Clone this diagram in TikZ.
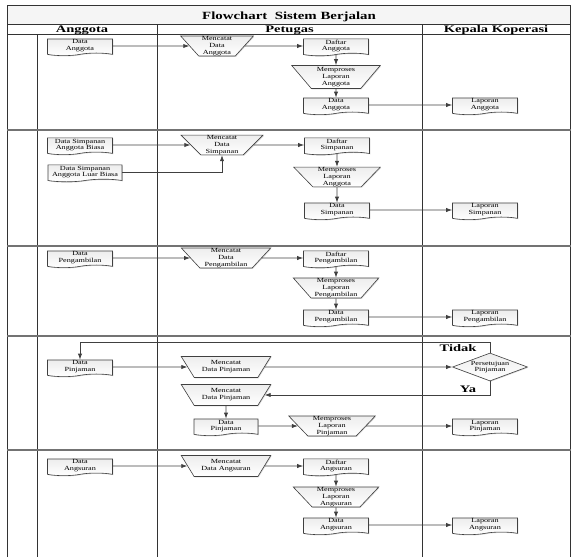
\documentclass[tikz,border=0pt]{standalone}
\usepackage{fontspec}
\setmainfont{Liberation Serif}[FakeStretch=1.3]
\newfontfamily\ttlfont{Liberation Serif}[FakeStretch=1.35]
\newfontfamily\hdrfont{Liberation Serif}[FakeStretch=1.45]
\usetikzlibrary{shapes.geometric,shapes.symbols,arrows.meta,shadows}

\tikzset{
  nodefont/.style={font=\fontsize{6.3}{6.8}\selectfont},
  shapebase/.style={draw=black!75, line width=0.6pt, top color=gray!14, bottom color=white,
    drop shadow={shadow xshift=0.8pt, shadow yshift=-0.8pt, fill=black!30},
    inner sep=0.3pt, align=center, nodefont},
  docbox/.style={shapebase, tape, tape bend top=none, tape bend height=2.6pt,
    inner ysep=0.9pt, minimum width=#1, minimum height=15pt},
  docbox/.default=65pt,
  manop/.style 2 args={shapebase, trapezium, shape border rotate=180,
    trapezium stretches=true, trapezium angle=52, minimum width=#1, minimum height=#2},
  decision/.style={shapebase, diamond, aspect=2.6, minimum width=75pt, minimum height=28pt, inner sep=0pt},
  flow/.style={draw=black!75, line width=0.7pt, -{Latex[length=6pt,width=4.2pt]}},
  laneline/.style={draw=black!80, line width=0.8pt},
  rowline/.style={draw=black!55, line width=1.3pt},
  lanetitle/.style={font=\hdrfont\bfseries\fontsize{10}{12}\selectfont, anchor=base},
  answer/.style={font=\hdrfont\bfseries\fontsize{10}{12}\selectfont, anchor=base},
}

\begin{document}
\begin{tikzpicture}[x=1pt, y=-1pt]
\useasboundingbox (0,0) rectangle (572,557);

% swimlane frame
\fill[gray!8] (7,5) rectangle (570.5,24);
\draw[laneline] (7,557) -- (7,5) -- (570.5,5) -- (570.5,557);
\draw[laneline] (7,24) -- (570.5,24);
\draw[laneline] (7,34) -- (570.5,34);
\draw[laneline] (37,34) -- (37,557);
\draw[laneline] (157,24) -- (157,557);
\draw[laneline] (422,24) -- (422,557);
\foreach \yy in {130,246,336,450} \draw[rowline] (7,\yy) -- (570.5,\yy);

\node[font=\ttlfont\bfseries\fontsize{11}{13}\selectfont, anchor=base] (title) at (289,19) {Flowchart\ \ Sistem Berjalan};
\node[lanetitle] (hAng) at (82,32) {Anggota};
\node[lanetitle] (hPet) at (289.5,32) {Petugas};
\node[lanetitle] (hKep) at (496,32) {Kepala Koperasi};

% data anggota
\node[docbox] (dA1) at (80,46) {Data\\Anggota};
\node[manop={73pt}{20pt}] (mA) at (217,46) {Mencatat\\Data\\Anggota};
\node[docbox] (fA) at (336,46) {Daftar\\Anggota};
\node[manop={89pt}{23pt}] (pA) at (336,77) {Memproses\\Laporan\\Anggota};
\node[docbox] (dA2) at (336,105) {Data\\Anggota};
\node[docbox] (lA) at (485,105) {Laporan\\Anggota};
\draw[flow] (dA1) -- (mA);
\draw[flow] (mA) -- (fA);
\draw[flow] (fA) -- (pA);
\draw[flow] (pA) -- (dA2);
\draw[flow] (dA2) -- (lA);

% simpanan
\node[docbox] (dS1) at (80,145) {Data Simpanan\\Anggota Biasa};
\node[docbox=74pt, minimum height=17pt] (dS2) at (85,172) {Data Simpanan\\Anggota Luar Biasa};
\node[manop={82pt}{18pt}] (mS) at (222,145) {Mencatat\\Data\\Simpanan};
\node[docbox] (fS) at (337,145) {Daftar\\Simpanan};
\node[manop={87pt}{19pt}] (pS) at (337,177) {Memproses\\Laporan\\Anggota};
\node[docbox] (dS3) at (337,210) {Data\\Simpanan};
\node[docbox] (lS) at (485,210) {Laporan\\Simpanan};
\draw[flow] (dS1) -- (mS);
\draw[flow] (dS2) -| (mS);
\draw[flow] (mS) -- (fS);
\draw[flow] (fS) -- (pS);
\draw[flow] (pS) -- (dS3);
\draw[flow] (dS3) -- (lS);

% pengambilan
\node[docbox] (dG1) at (80,258) {Data\\Pengambilan};
\node[manop={90pt}{20pt}] (mG) at (226,258) {Mencatat\\Data\\Pengambilan};
\node[docbox] (fG) at (336,258) {Daftar\\Pengambilan};
\node[manop={86pt}{20pt}] (pG) at (336,288) {Memproses\\Laporan\\Pengambilan};
\node[docbox] (dG2) at (336,317) {Data\\Pengambilan};
\node[docbox] (lG) at (485,317) {Laporan\\Pengambilan};
\draw[flow] (dG1) -- (mG);
\draw[flow] (mG) -- (fG);
\draw[flow] (fG) -- (pG);
\draw[flow] (pG) -- (dG2);
\draw[flow] (dG2) -- (lG);

% pinjaman
\node[docbox] (dP1) at (80,367) {Data\\Pinjaman};
\node[manop={90pt}{21pt}] (mP1) at (226,367) {Mencatat\\Data Pinjaman};
\node[decision] (dec) at (490,367) {Persetujuan\\Pinjaman};
\node[manop={90pt}{21pt}] (mP2) at (226,395) {Mencatat\\Data Pinjaman};
\node[docbox=64pt] (dP2) at (226,426) {Data\\Pinjaman};
\node[manop={87pt}{20pt}] (pP) at (332,426) {Memproses\\Laporan\\Pinjaman};
\node[docbox] (lP) at (485,426) {Laporan\\Pinjaman};
\coordinate (tk) at (490,342);
\draw[flow] (dP1) -- (mP1);
\draw[flow] (mP1) -- (dec);
\draw[flow] (dec.north) -- (tk) -| (dP1);
\draw[flow] (dec) |- (mP2);
\draw[flow] (mP2) -- (dP2);
\draw[flow] (dP2) -- (pP);
\draw[flow] (pP) -- (lP);
\node[answer] (tidak) at (458,351) {Tidak};
\node[answer] (ya) at (468,392) {Ya};

% angsuran
\node[docbox] (dN1) at (80,466) {Data\\Angsuran};
\node[manop={90pt}{21pt}] (mN) at (226,466) {Mencatat\\Data Angsuran};
\node[docbox] (fN) at (336,466) {Daftar\\Angsuran};
\node[manop={86pt}{20pt}] (pN) at (336,497) {Memproses\\Laporan\\Angsuran};
\node[docbox] (dN2) at (336,525) {Data\\Angsuran};
\node[docbox] (lN) at (485,525) {Laporan\\Angsuran};
\draw[flow] (dN1) -- (mN);
\draw[flow] (mN) -- (fN);
\draw[flow] (fN) -- (pN);
\draw[flow] (pN) -- (dN2);
\draw[flow] (dN2) -- (lN);
\end{tikzpicture}
\end{document}
